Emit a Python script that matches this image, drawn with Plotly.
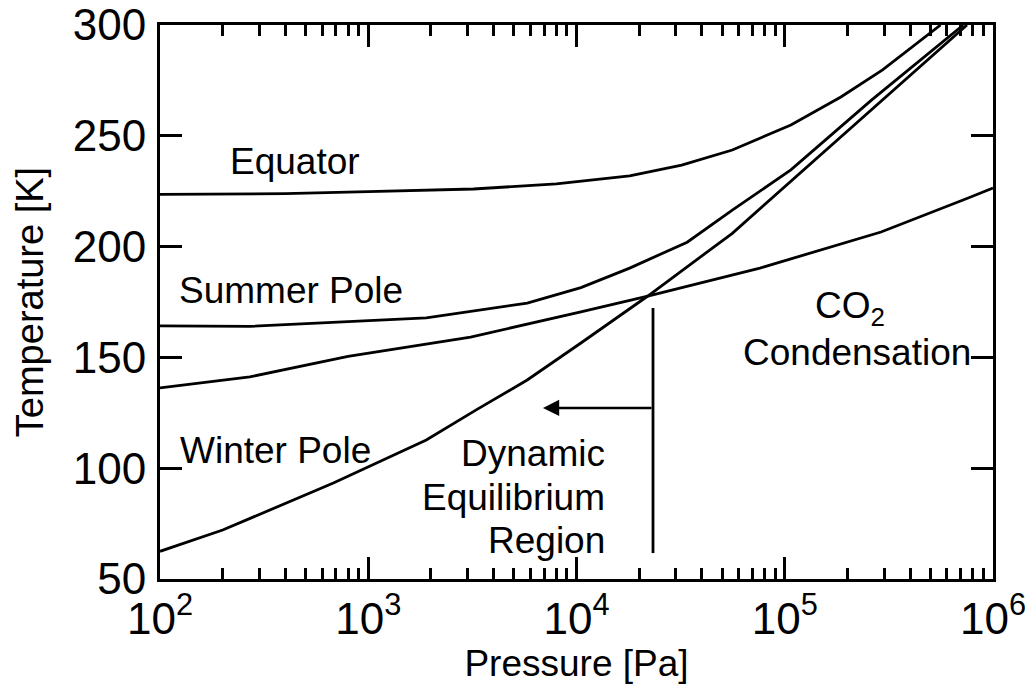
import math
import plotly.graph_objects as go

# Temperature profiles vs. pressure
equator_p = [100, 400, 1000, 3200, 8000, 1.8e4, 3.2e4, 5.6e4, 1.07e5, 1.86e5, 2.95e5, 5.6e5]
equator_t = [223.6, 223.9, 224.8, 226.0, 228.3, 231.9, 236.8, 243.6, 254.9, 267.5, 279.7, 300]

summer_p = [100, 270, 1900, 5800, 1.05e4, 1.8e4, 3.4e4, 5.6e4, 1.07e5, 2.6e5, 7.2e5]
summer_t = [164.2, 164.0, 167.8, 174.5, 181.5, 190.3, 202.0, 216.5, 234.6, 266.0, 300]

winter_p = [100, 200, 680, 1900, 3300, 5800, 1.05e4, 2.2e4, 5.6e4, 1.23e5, 2.95e5, 7.5e5]
winter_t = [62.5, 72.1, 93.3, 112.7, 126.3, 139.8, 156.5, 177.7, 206.0, 234.6, 266.0, 300]

co2_p = [100, 270, 800, 3100, 1.05e4, 2.2e4, 7.6e4, 2.9e5, 7.6e5, 1e6]
co2_t = [136.2, 141.2, 150.5, 159.2, 170.5, 177.7, 190.3, 206.6, 221.9, 226.4]

# Dynamic equilibrium marker: vertical bar and leftward arrow
dyn_p = [2.33e4, 2.33e4]
dyn_t = [61.7, 172.3]
arrow_tip_p = 6.9e3
arrow_t = 127.2

x_tickvals = [1e2, 1e3, 1e4, 1e5, 1e6]
x_ticktext = ["10<sup>2</sup>", "10<sup>3</sup>", "10<sup>4</sup>", "10<sup>5</sup>", "10<sup>6</sup>"]
x_minor = [m * 10 ** e for e in range(2, 6) for m in range(2, 10)]
y_tickvals = [50, 100, 150, 200, 250, 300]

FONT = "Liberation Sans, Arial, sans-serif"
LW = 2.8

fig = go.Figure()
for px, ty in [(equator_p, equator_t), (summer_p, summer_t), (winter_p, winter_t), (co2_p, co2_t), (dyn_p, dyn_t)]:
    fig.add_trace(go.Scatter(x=px, y=ty, mode="lines",
                             line=dict(color="black", width=LW), showlegend=False,
                             cliponaxis=True))

fig.add_annotation(x=math.log10(arrow_tip_p), y=arrow_t, xref="x", yref="y",
                   ax=math.log10(dyn_p[0]), ay=arrow_t, axref="x", ayref="y",
                   showarrow=True, arrowhead=2, arrowsize=1.3, arrowwidth=2.5,
                   arrowcolor="black", text="", standoff=0, startstandoff=0)

labels = [
    ("Equator", 295, 161, "center"),
    ("Summer Pole", 291, 290, "center"),
    ("Winter Pole", 275, 450, "center"),
    ("Dynamic", 607, 453, "right"),
    ("Equilibrium", 607, 497, "right"),
    ("Region", 607, 540, "right"),
    ("CO<sub>2</sub>", 850, 308, "center"),
    ("Condensation", 857, 352, "center"),
]
L, R, T, B = 160, 993, 25, 579
for txt, cx, cy, anchor in labels:
    fig.add_annotation(x=(cx - L) / (R - L), y=(B - cy) / (B - T), xref="paper", yref="paper",
                       text=txt, showarrow=False, xanchor=anchor, yanchor="middle",
                       font=dict(family=FONT, size=37, color="black"))

fig.update_xaxes(type="log", range=[1.99999, 6.00001], tickmode="array", tickvals=x_tickvals,
                 ticktext=x_ticktext, ticks="inside", ticklen=22, tickwidth=2.5,
                 tickcolor="black", showline=True, linewidth=3, linecolor="black",
                 mirror="allticks", showgrid=False, zeroline=False, automargin=False,
                 ticklabeloverflow="allow",
                 tickfont=dict(family=FONT, size=44, color="black"),
                 ticklabelstandoff=-1,
                 minor=dict(tickmode="array", tickvals=x_minor, ticks="inside",
                            ticklen=11, tickwidth=2.5, tickcolor="black", showgrid=False),
                 title=dict(text="Pressure [Pa]", font=dict(family=FONT, size=37, color="black"),
                            standoff=2))
fig.update_yaxes(range=[50, 300], tickmode="array", tickvals=y_tickvals,
                 ticks="inside", ticklen=22, tickwidth=2.5, tickcolor="black",
                 showline=True, linewidth=3, linecolor="black", mirror="allticks",
                 showgrid=False, zeroline=False, automargin=False,
                 ticklabeloverflow="allow",
                 tickfont=dict(family=FONT, size=44, color="black"),
                 ticklabelstandoff=2,
                 title=dict(text="Temperature [K]", font=dict(family=FONT, size=38, color="black"),
                            standoff=18))

fig.update_layout(width=1025, height=697, margin=dict(l=160, r=32, t=25, b=118),
                  paper_bgcolor="white", plot_bgcolor="white", showlegend=False)

fig.write_html("out.html")
